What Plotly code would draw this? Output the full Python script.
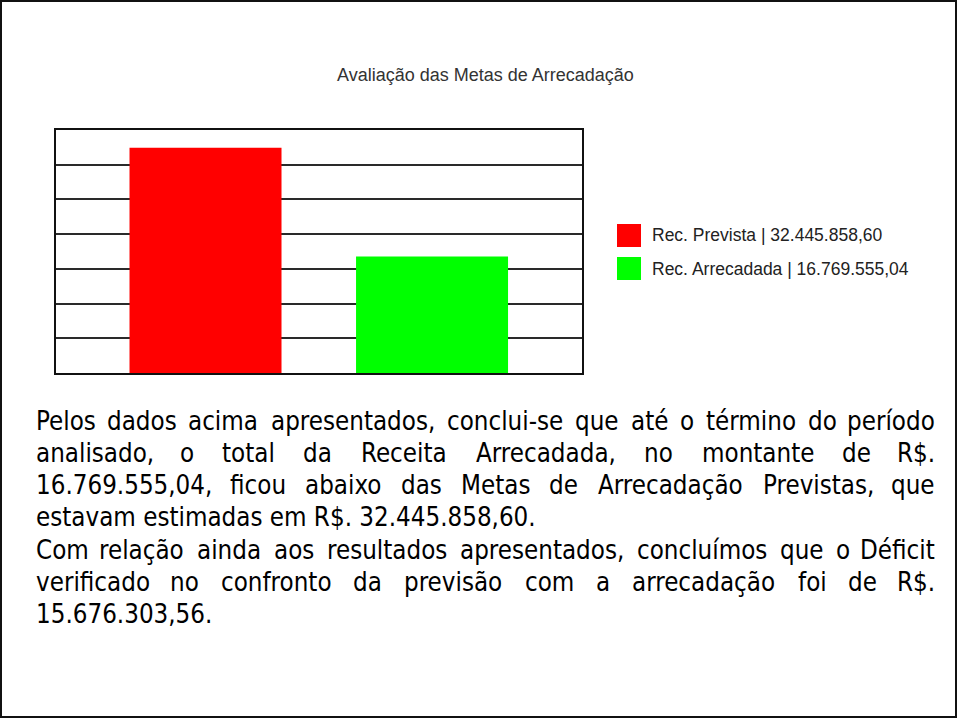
import plotly.graph_objects as go

# ---------------- data ----------------
categories = ["Rec. Prevista", "Rec. Arrecadada"]
values = [32445858.60, 16769555.04]
bar_colors = ["#ff0000", "#00ff00"]
chart_title = "Avaliação das Metas de Arrecadação"
y_max = 35000000
y_step = 5000000

W, H = 957, 718


def px(x):
    return x / W


def py(y):
    return 1 - y / H


def brl(v):
    s = f"{v:,.2f}"
    return s.replace(",", "_").replace(".", ",").replace("_", ".")


prevista, arrecadada = values
deficit = round(prevista - arrecadada, 2)

paragraph_lines = [
    ("Pelos dados acima apresentados, conclui-se que até o término do período", True),
    ("analisado, o total da Receita Arrecadada, no montante de R$.", True),
    (f"{brl(arrecadada)}, ficou abaixo das Metas de Arrecadação Previstas, que", True),
    (f"estavam estimadas em R$. {brl(prevista)}.", False),
    ("Com relação ainda aos resultados apresentados, concluímos que o Déficit", True),
    ("verificado no confronto da previsão com a arrecadação foi de R$.", True),
    (f"{brl(deficit)}.", False),
]

# approximate DejaVu Sans advance widths (units per 2048 em)
ADV = {
    " ": 651, "$": 1303, ",": 651, "-": 739, ".": 651, "|": 690,
    "A": 1401, "C": 1430, "D": 1577, "M": 1767, "P": 1235, "R": 1423,
    "a": 1255, "b": 1300, "c": 1126, "d": 1300, "e": 1260, "f": 721,
    "g": 1300, "h": 1298, "i": 569, "j": 569, "k": 1186, "l": 569,
    "m": 1995, "n": 1298, "o": 1253, "p": 1300, "q": 1300, "r": 842,
    "s": 1067, "t": 803, "u": 1298, "v": 1212, "w": 1675, "x": 1212,
    "y": 1212, "z": 1075,
}
BASE = {"á": "a", "ã": "a", "é": "e", "í": "i", "ç": "c", "ó": "o"}
COND = 0.9
FS = 25.7


def text_width(s):
    tot = 0
    for ch in s:
        c = BASE.get(ch, ch)
        if c.isdigit():
            tot += 1303
        else:
            tot += ADV.get(c, 1250)
    return tot / 2048 * FS * COND


fig = go.Figure()
fig.add_trace(go.Bar(
    x=categories, y=values, marker=dict(color=bar_colors, line=dict(width=0)),
    width=0.671, showlegend=False, hoverinfo="skip",
))

fig.update_layout(
    width=W, height=H, margin=dict(l=0, r=0, t=0, b=0),
    paper_bgcolor="white", plot_bgcolor="white",
    xaxis=dict(domain=[px(56), px(582)], range=[-0.66, 1.662], showticklabels=False,
               showgrid=False, zeroline=False, showline=True, linecolor="#111",
               linewidth=2, mirror=True, ticks=""),
    yaxis=dict(domain=[py(373), py(130)], range=[0, y_max], dtick=y_step,
               showticklabels=False, showgrid=True, gridcolor="#2a2a2a", gridwidth=2,
               zeroline=False, showline=True, linecolor="#111", linewidth=2,
               mirror=True, ticks=""),
    font=dict(family="Liberation Sans, Arial, sans-serif"),
)

annotations = []
shapes = []

# title
annotations.append(dict(
    text=chart_title, x=px(485), y=py(75), xref="paper", yref="paper",
    xanchor="center", yanchor="middle", showarrow=False,
    font=dict(family="Liberation Sans, Arial, sans-serif", size=18, color="#333"),
))

# manual legend
leg_tops = [224, 257]
for i, (cat, val, col) in enumerate(zip(categories, values, bar_colors)):
    t = leg_tops[i]
    shapes.append(dict(type="rect", xref="paper", yref="paper",
                       x0=px(617), x1=px(641), y0=py(t + 23), y1=py(t),
                       fillcolor=col, line=dict(width=0)))
    annotations.append(dict(
        text=f"{cat} | {brl(val)}", x=px(650), y=py(t + 11.5),
        xref="paper", yref="paper", xanchor="left", yanchor="middle",
        showarrow=False,
        font=dict(family="Liberation Sans, Arial, sans-serif", size=17.5, color="#222"),
    ))

# paragraph (justified)
X0, X1 = 34, 937
BASELINE0, PITCH = 428.5, 32.3
tfont = dict(family="DejaVu Sans Condensed, DejaVu Sans, sans-serif", size=FS, color="black")
for i, (line, just) in enumerate(paragraph_lines):
    yc = BASELINE0 + PITCH * i - 8
    if not just:
        annotations.append(dict(text=line, x=px(X0), y=py(yc), xref="paper", yref="paper",
                                xanchor="left", yanchor="middle", showarrow=False, font=tfont))
        continue
    words = line.split(" ")
    ws = [text_width(w) for w in words]
    gap = (X1 - X0 - sum(ws)) / (len(words) - 1)
    cur = X0
    for j, (w, ww) in enumerate(zip(words, ws)):
        if j == 0:
            xa, xx = "left", X0
        elif j == len(words) - 1:
            xa, xx = "right", X1
        else:
            xa, xx = "center", cur + ww / 2
        annotations.append(dict(text=w, x=px(xx), y=py(yc), xref="paper", yref="paper",
                                xanchor=xa, yanchor="middle", showarrow=False, font=tfont))
        cur += ww + gap

# page border
shapes.append(dict(type="rect", xref="paper", yref="paper",
                   x0=px(1), x1=px(956), y0=py(717), y1=py(1),
                   line=dict(color="#111", width=2), fillcolor="rgba(0,0,0,0)"))

fig.update_layout(annotations=annotations, shapes=shapes)

fig.write_html("out.html", config={"displayModeBar": False},
               post_script="document.body.style.margin='0px';")
